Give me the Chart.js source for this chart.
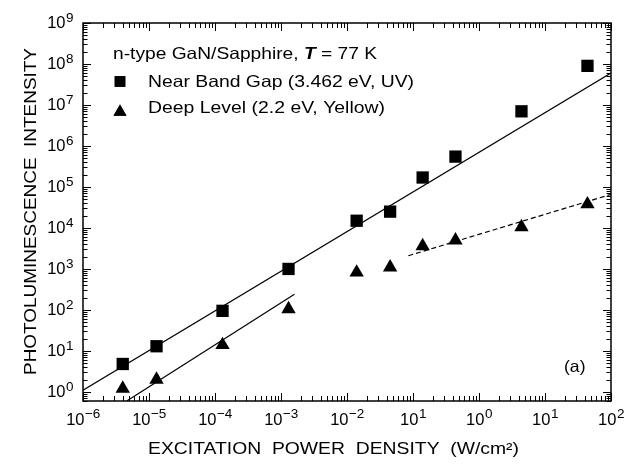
<!DOCTYPE html>
<html>
<head>
<meta charset="utf-8">
<script src="https://cdn.jsdelivr.net/npm/chart.js@4"></script>
<style>
  body { margin: 0; background: #fff; }
  canvas { display: block; }
</style>
</head>
<body>
<canvas id="myChart" width="637" height="464"></canvas>
<script>
// excitation power density (W/cm2), same for both series
var powerDensity = [4e-6, 1.3e-5, 1.3e-4, 1.3e-3, 1.4e-2, 4.5e-2, 0.14, 0.44, 4.4, 44];
// near band gap emission (squares)
var nearBandGap = [4.8, 13, 95, 1000, 1.5e4, 2.5e4, 1.7e5, 5.5e5, 7e6, 9e7];
// deep level emission (triangles)
var deepLevel = [1.2, 2.0, 14, 105, 820, 1100, 3600, 5000, 1.05e4, 3.8e4];

// fitted lines, end points
var fitNbgX = [1e-6, 1e2];
var fitNbgY = [1.1, 6e7];
var fitDeepX = [4.6e-6, 1.6e-3];
var fitDeepY = [0.6, 240];
var fitDeepHighX = [0.085, 1e2];
var fitDeepHighY = [2100, 6.6e4];

// tick labels are 10^n, these are the exponents as printed
var xTickExp = ['\u22126', '\u22125', '\u22124', '\u22123', '\u22122', '1', '0', '1', '2'];
var yTickExp = ['0', '1', '2', '3', '4', '5', '6', '7', '8', '9'];

function pairs(xs, ys) {
    var out = [];
    for (var i = 0; i < xs.length; i++) {
        out.push({ x: xs[i], y: ys[i] });
    }
    return out;
}

var FONT = '"Liberation Sans", Arial, Helvetica, sans-serif';

// the original lettering is wider than Arial, so stretch it to width
function wideText(ctx, parts, x, y, width) {
    var total = 0, i;
    for (i = 0; i < parts.length; i++) {
        ctx.font = parts[i][1];
        total += ctx.measureText(parts[i][0]).width;
    }
    var sx = width / total;
    ctx.save();
    ctx.translate(x, y);
    ctx.scale(sx, 1);
    var cx = 0;
    for (i = 0; i < parts.length; i++) {
        ctx.font = parts[i][1];
        ctx.fillText(parts[i][0], cx, 0);
        cx += ctx.measureText(parts[i][0]).width;
    }
    ctx.restore();
}

// frame, inward ticks on all sides, labels and annotations
var framePlugin = {
    id: 'frame',
    afterDraw: function(chart) {
        var ctx = chart.ctx;
        var a = chart.chartArea;
        var xs = chart.scales.x;
        var ys = chart.scales.y;
        ctx.save();
        ctx.strokeStyle = '#000';
        ctx.fillStyle = '#000';

        ctx.lineWidth = 1.5;
        ctx.strokeRect(a.left, a.top, a.right - a.left, a.bottom - a.top);

        ctx.lineWidth = 1;
        var e, k, v, p, len;
        // x ticks
        for (e = -6; e <= 2; e++) {
            for (k = 1; k <= 9; k++) {
                v = k * Math.pow(10, e);
                if (v > xs.max * 1.0001) break;
                p = Math.round(xs.getPixelForValue(v)) + 0.5;
                len = k === 1 ? 8 : 5;
                ctx.beginPath();
                ctx.moveTo(p, a.bottom); ctx.lineTo(p, a.bottom - len);
                ctx.moveTo(p, a.top); ctx.lineTo(p, a.top + len);
                ctx.stroke();
            }
        }
        // y ticks
        for (e = -1; e <= 9; e++) {
            for (k = 1; k <= 9; k++) {
                v = k * Math.pow(10, e);
                if (v < ys.min || v > ys.max * 1.0001) continue;
                p = Math.round(ys.getPixelForValue(v)) + 0.5;
                len = k === 1 ? 8 : 4.5;
                ctx.beginPath();
                ctx.moveTo(a.left, p); ctx.lineTo(a.left + len, p);
                ctx.moveTo(a.right, p); ctx.lineTo(a.right - len, p);
                ctx.stroke();
            }
        }

        var big = '16.5px ' + FONT;
        var small = '13.5px ' + FONT;
        var i, w1, w2, x0;
        ctx.textBaseline = 'alphabetic';
        ctx.textAlign = 'left';

        // x tick labels
        for (i = 0; i < xTickExp.length; i++) {
            p = xs.getPixelForValue(Math.pow(10, -6 + i));
            ctx.font = big; w1 = ctx.measureText('10').width;
            ctx.font = small; w2 = ctx.measureText(xTickExp[i]).width;
            x0 = p - (w1 + w2) / 2;
            ctx.font = big; ctx.fillText('10', x0, 425);
            ctx.font = small; ctx.fillText(xTickExp[i], x0 + w1 + 0.5, 418);
        }
        // y tick labels
        for (i = 0; i < yTickExp.length; i++) {
            p = ys.getPixelForValue(Math.pow(10, i));
            ctx.font = big; w1 = ctx.measureText('10').width;
            ctx.font = small; w2 = ctx.measureText(yTickExp[i]).width;
            x0 = 73 - w1 - w2;
            ctx.font = big; ctx.fillText('10', x0, p + 5);
            ctx.font = small; ctx.fillText(yTickExp[i], x0 + w1 + 0.5, p - 1);
        }

        // axis titles
        var tf = '16.5px ' + FONT;
        wideText(ctx, [['EXCITATION  POWER  DENSITY  (W/cm\u00b2)', tf]], 148, 454, 371);
        ctx.save();
        ctx.translate(36, 375);
        ctx.rotate(-Math.PI / 2);
        wideText(ctx, [['PHOTOLUMINESCENCE  INTENSITY', '16px ' + FONT]], 0, 0, 327);
        ctx.restore();

        // legend box
        var lf = '16.5px ' + FONT;
        wideText(ctx, [['n-type GaN/Sapphire, ', lf], ['T', 'italic bold 16.5px ' + FONT], [' = 77 K', lf]], 113, 58.5, 264);
        wideText(ctx, [['Near Band Gap (3.462 eV, UV)', lf]], 148, 86.5, 266);
        wideText(ctx, [['Deep Level (2.2 eV, Yellow)', lf]], 148, 113, 237);
        Chart.helpers.drawPoint(ctx, { pointStyle: 'rect', radius: 7.5, borderWidth: 0 }, 120, 81.5);
        ctx.fill();
        Chart.helpers.drawPoint(ctx, { pointStyle: 'triangle', radius: 7.5, borderWidth: 0 }, 120, 112);
        ctx.fill();

        wideText(ctx, [['(a)', lf]], 564, 372, 21.5);
        ctx.restore();
    }
};

var ctx = document.getElementById('myChart').getContext('2d');
var myChart = new Chart(ctx, {
    type: 'scatter',
    data: {
        datasets: [{
            label: 'Near Band Gap (3.462 eV, UV)',
            data: pairs(powerDensity, nearBandGap),
            pointStyle: 'rect',
            pointRadius: 8.7,
            backgroundColor: '#000',
            borderColor: '#000',
            borderWidth: 0
        }, {
            label: 'Deep Level (2.2 eV, Yellow)',
            data: pairs(powerDensity, deepLevel),
            pointStyle: 'triangle',
            pointRadius: 8.3,
            backgroundColor: '#000',
            borderColor: '#000',
            borderWidth: 0
        }, {
            label: 'fit near band gap',
            data: pairs(fitNbgX, fitNbgY),
            showLine: true,
            pointRadius: 0,
            borderColor: '#000',
            borderWidth: 1.2
        }, {
            label: 'fit deep level low',
            data: pairs(fitDeepX, fitDeepY),
            showLine: true,
            pointRadius: 0,
            borderColor: '#000',
            borderWidth: 1.2
        }, {
            label: 'fit deep level high',
            data: pairs(fitDeepHighX, fitDeepHighY),
            showLine: true,
            pointRadius: 0,
            borderColor: '#000',
            borderWidth: 1.2,
            borderDash: [5, 3]
        }]
    },
    options: {
        responsive: false,
        animation: false,
        devicePixelRatio: 1,
        layout: {
            padding: { left: 83, top: 23, right: 26, bottom: 63 }
        },
        plugins: {
            legend: { display: false },
            tooltip: { enabled: false }
        },
        scales: {
            x: {
                type: 'logarithmic',
                min: 1e-6,
                max: 1e2,
                display: false
            },
            y: {
                type: 'logarithmic',
                min: 0.6,
                max: 1e9,
                display: false
            }
        }
    },
    plugins: [framePlugin]
});
</script>
</body>
</html>
